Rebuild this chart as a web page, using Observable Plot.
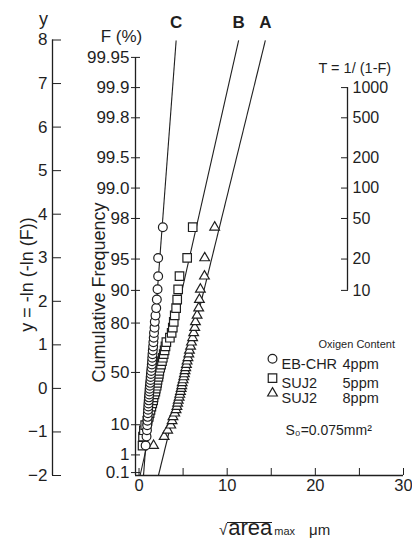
<!DOCTYPE html>
<html><head><meta charset="utf-8">
<script src="https://cdn.jsdelivr.net/npm/d3@7"></script>
<script src="https://cdn.jsdelivr.net/npm/@observablehq/plot@0.6"></script>
<style>
body{margin:0;background:#fff;font-family:"Liberation Sans",Arial,sans-serif;color:#1f1f1f}
#wrap{width:412px;height:541px;overflow:hidden}
#cap{position:relative;width:412px;height:36px;white-space:nowrap;}
#cap .in{position:absolute;left:219px;top:5px;line-height:36px;font-size:22px}
#cap .rad{font-size:15px}
#cap .area{display:inline-block;line-height:10px;border-top:1.2px solid #1f1f1f;padding-left:1px}
#cap .sub{font-size:11px;margin-left:2px}
#cap .unit{font-size:15px;margin-left:14px}
</style></head><body><div id="wrap"><div id="chart"></div>
<div id="cap"><div class="in"><span class="rad">√</span><span class="area">area</span><span class="sub">max</span><span class="unit">μm</span></div></div></div>
<script>
// cumulative frequency (%) of each rank, shared by all three series
const rankF = [2.44, 4.88, 7.32, 9.76, 12.20, 14.63, 17.07, 19.51, 21.95, 24.39,
  26.83, 29.27, 31.71, 34.15, 36.59, 39.02, 41.46, 43.90, 46.34, 48.78,
  51.22, 53.66, 56.10, 58.54, 60.98, 63.41, 65.85, 68.29, 70.73, 73.17,
  75.61, 78.05, 80.49, 82.93, 85.37, 87.80, 90.24, 92.68, 95.12, 97.56];
// sqrt(area)max (µm) per rank
const xC = [0.75, 0.85, 0.90, 0.93, 0.96, 0.98, 1.00, 1.02, 1.05, 1.07,
  1.10, 1.12, 1.15, 1.18, 1.20, 1.23, 1.26, 1.30, 1.32, 1.35,
  1.38, 1.42, 1.45, 1.48, 1.50, 1.53, 1.56, 1.60, 1.63, 1.67,
  1.70, 1.76, 1.79, 1.87, 1.95, 2.02, 2.10, 2.17, 2.17, 2.70];
const xB = [0.40, 0.45, 0.55, 0.70, 0.95, 1.10, 1.20, 1.30, 1.40, 1.50,
  1.60, 1.65, 1.75, 1.85, 1.90, 2.00, 2.05, 2.10, 2.20, 2.25,
  2.30, 2.40, 2.50, 2.60, 2.70, 2.80, 2.90, 3.00, 3.10, 3.50,
  3.70, 3.83, 3.94, 4.05, 4.21, 4.33, 4.44, 4.59, 5.46, 6.09];
const xA = [1.65, 2.85, 3.25, 3.60, 3.75, 3.85, 4.05, 4.20, 4.30, 4.38,
  4.45, 4.55, 4.62, 4.70, 4.78, 4.85, 4.90, 5.00, 5.08, 5.15,
  5.22, 5.30, 5.38, 5.45, 5.55, 5.65, 5.72, 5.85, 5.95, 6.08,
  6.20, 6.32, 6.40, 6.59, 6.77, 6.85, 6.96, 7.42, 7.45, 8.58];
// fitted lines (x at y = -2 and at the top end)
const lineNames = ["C", "B", "A"];
const lineBottomX = [0.51, 0.12, 2.2];
const lineTopX = [4.21, 11.30, 14.33];
const lineYBottom = -2, lineYTop = 7.99;
// axes
const yTicks = [-2, -1, 0, 1, 2, 3, 4, 5, 6, 7, 8];
const fTicks = [0.1, 1, 10, 50, 80, 90, 95, 98, 99.0, 99.5, 99.8, 99.9, 99.95];
const fLabels = ["0.1", "1", "10", "50", "80", "90", "95", "98", "99.0", "99.5", "99.8", "99.9", "99.95"];
const tTicks = [10, 20, 50, 100, 200, 500, 1000];
const xTicks = [0, 5, 10, 15, 20, 25, 30];
const xLabelTicks = [0, 10, 20, 30];
// legend
const legendNames = ["EB-CHR", "SUJ2", "SUJ2"];
const legendO2 = ["4ppm", "5ppm", "8ppm"];
const legendSymbols = ["circle", "square", "triangle"];

const gy = p => -Math.log(-Math.log(p));
const yOfPct = f => gy(f / 100);
const yOfT = t => gy(1 - 1 / t);
const fLabelOf = new Map(fTicks.map((f, i) => [yOfPct(f), fLabels[i]]));
const tLabelOf = new Map(tTicks.map(t => [yOfT(t), String(t)]));

const ink = "#1f1f1f";
const legendDy = [318.8, 338.2, 353.2];
const symR = {circle: 4.4, square: 4.8, triangle: 3.6};

const chart = Plot.plot({
  width: 412, height: 505,
  marginTop: 39.5, marginBottom: 30, marginLeft: 135, marginRight: 9,
  x: {domain: [-0.4, 30]},
  y: {domain: [-2, 8]},
  style: {fontFamily: "Liberation Sans, Arial, sans-serif", color: ink, background: "white", overflow: "visible"},
  marks: [
    // left y axis
    Plot.ruleX([-0.4], {y1: () => -2, y2: () => 8, dx: -83, stroke: ink, strokeWidth: 1.3}),
    Plot.axisY(yTicks, {anchor: "left", dx: -83, tickSize: -9, tickPadding: 14, fontSize: 17, label: null, stroke: ink, fill: ink}),
    // F axis
    Plot.ruleX([-0.4], {y1: () => -2, y2: () => yOfPct(99.95), stroke: ink, strokeWidth: 1.3}),
    Plot.axisY(fTicks.map(yOfPct), {anchor: "left", dx: 5, tickSize: 9, tickPadding: 2, fontSize: 17, label: null, tickFormat: d => fLabelOf.get(d), stroke: ink, fill: ink}),
    // T axis
    Plot.ruleX([30], {y1: () => yOfT(10), y2: () => yOfT(1000), dx: -56, stroke: ink, strokeWidth: 1.3}),
    Plot.axisY(tTicks.map(yOfT), {anchor: "right", dx: -56, tickSize: -7, tickPadding: 12, fontSize: 16, label: null, tickFormat: d => tLabelOf.get(d), stroke: ink, fill: ink}),
    // x axis
    Plot.ruleY([-2], {x1: () => -0.4, x2: () => 30, stroke: ink, strokeWidth: 1.3}),
    Plot.axisX(xTicks, {anchor: "bottom", tickSize: -7, fill: "none", label: null, stroke: ink}),
    Plot.axisX(xLabelTicks, {anchor: "bottom", tickSize: 0, tickPadding: 4, fontSize: 16.5, label: null, fill: ink}),
    // fitted lines
    Plot.link(lineNames, {x1: (d, i) => lineBottomX[i], y1: () => lineYBottom, x2: (d, i) => lineTopX[i], y2: () => lineYTop, stroke: ink, strokeWidth: 1.1}),
    Plot.text(lineNames, {x: (d, i) => lineTopX[i], y: () => lineYTop, dy: -18, text: d => d, fontSize: 17, fontWeight: "bold", fill: ink}),
    // data points
    Plot.dot(rankF, {x: (d, i) => xA[i], y: d => yOfPct(d), symbol: "triangle", r: symR.triangle, fill: "white", stroke: ink, strokeWidth: 1.2}),
    Plot.dot(rankF, {x: (d, i) => xB[i], y: d => yOfPct(d), symbol: "square", r: symR.square, fill: "white", stroke: ink, strokeWidth: 1.2}),
    Plot.dot(rankF, {x: (d, i) => xC[i], y: d => yOfPct(d), symbol: "circle", r: symR.circle, fill: "white", stroke: ink, strokeWidth: 1.2}),
    // axis titles
    Plot.text(["y"], {frameAnchor: "top-left", dx: -92, dy: -28, textAnchor: "middle", fontSize: 18, fill: ink}),
    Plot.text(["F (%)"], {frameAnchor: "top-left", dx: -14, dy: -10, textAnchor: "middle", fontSize: 17, fill: ink}),
    Plot.text(["T = 1/ (1-F)"], {frameAnchor: "top-left", dx: 183, dy: 22.5, textAnchor: "start", fontSize: 14.5, fill: ink}),
    Plot.text(["y = -ln (-ln (F))"], {frameAnchor: "top-left", dx: -115, dy: 234.5, rotate: -90, textAnchor: "middle", fontSize: 18, fill: ink}),
    Plot.text(["Cumulative Frequency"], {frameAnchor: "top-left", dx: -43, dy: 252.5, rotate: -90, textAnchor: "middle", fontSize: 18, fill: ink}),
    // legend
    Plot.text(["Oxigen Content"], {frameAnchor: "top-left", dx: 183, dy: 300.5, textAnchor: "start", fontSize: 11, fill: ink}),
    legendNames.map((n, i) => [
      Plot.dot([n], {frameAnchor: "top-left", dx: 137, dy: legendDy[i], symbol: legendSymbols[i], r: symR[legendSymbols[i]], fill: "white", stroke: ink, strokeWidth: 1.2}),
      Plot.text([n], {frameAnchor: "top-left", dx: 146, dy: legendDy[i], textAnchor: "start", fontSize: 14.5, fill: ink}),
      Plot.text([legendO2[i]], {frameAnchor: "top-left", dx: 207, dy: legendDy[i], textAnchor: "start", fontSize: 14.5, fill: ink})
    ]),
    Plot.text(["S₀=0.075mm²"], {frameAnchor: "top-left", dx: 150, dy: 385.5, textAnchor: "start", fontSize: 14, fill: ink})
  ]
});
document.getElementById("chart").append(chart);
</script></body></html>
